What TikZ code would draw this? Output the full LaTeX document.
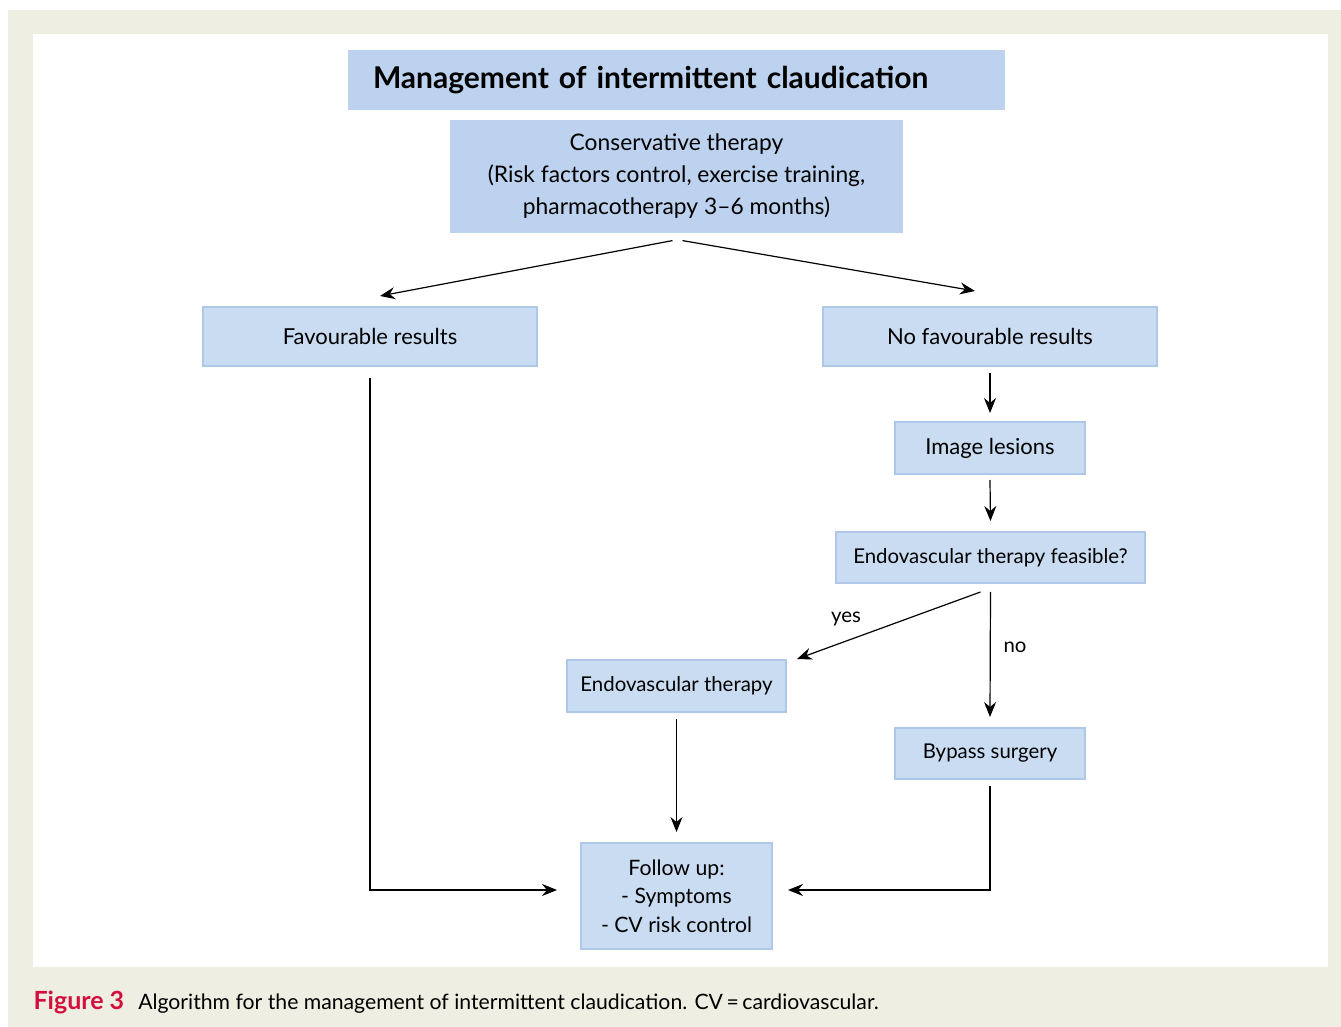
\documentclass[tikz,border=0pt]{standalone}
\usepackage{fontspec}
\setmainfont{Lato}
\usetikzlibrary{arrows.meta}

\definecolor{panel}{HTML}{EFEEE3}
\definecolor{boxfill}{HTML}{C9DCF1}
\definecolor{boxline}{HTML}{AFC8EA}
\definecolor{headfill}{HTML}{BDD2EE}
\definecolor{figred}{HTML}{D3103C}

\begin{document}
\begin{tikzpicture}[->,>={Stealth[length=7.5pt,width=6pt,inset=2.5pt]},x=0.5pt,y=-0.5pt,line width=0.6pt,
        box/.style={draw=boxline,fill=boxfill,line width=1pt,inner sep=0pt,
          align=center,font=\fontsize{11}{14}\selectfont},
        small/.style={font=\fontsize{10.2}{13}\selectfont},
        head/.style={fill=headfill,inner sep=0pt,align=center,
          font=\fontsize{11.4}{16}\selectfont}]

  \useasboundingbox (0,0) rectangle (1341,1027);
  \fill[panel] (8,10) rectangle (1341,1027);
  \fill[white] (33,34) rectangle (1328,967);

  \node[head,minimum width=328.5pt,minimum height=30pt,text width=303.5pt,align=left,
        font=\fontsize{15}{17}\selectfont\bfseries] (title) at (676.5,80)
        {Management of intermittent claudication};
  \node[head,minimum width=226.5pt,minimum height=56.5pt] (cons) at (676.5,176.5)
        {Conservative therapy\\(Risk factors control, exercise training,\\pharmacotherapy 3--6 months)};
  \node[box,minimum width=167pt,minimum height=29.5pt] (fav) at (370,336.5) {Favourable results};
  \node[box,minimum width=167pt,minimum height=29.5pt] (nofav) at (990,336.5) {No favourable results};
  \node[box,minimum width=95pt,minimum height=26pt] (img) at (990,448) {Image lesions};
  \node[box,small,minimum width=154.5pt,minimum height=25.5pt] (feas) at (990.5,557.5) {Endovascular therapy feasible?};
  \node[box,small,minimum width=109.5pt,minimum height=26pt] (endo) at (676.5,686) {Endovascular therapy};
  \node[box,small,minimum width=95pt,minimum height=25.5pt] (bypass) at (990,753.5) {Bypass surgery};
  \node[box,minimum width=95.5pt,minimum height=53pt,font=\fontsize{10.6}{14.3}\selectfont]
        (follow) at (676.5,896) {Follow up:\\- Symptoms\\- CV risk control};

  \draw ([xshift=-2pt,yshift=-3.5pt]cons.south) -- ([xshift=5pt,yshift=5pt]fav.north);
  \draw ([xshift=3pt,yshift=-3.5pt]cons.south) -- ([xshift=-7.5pt,yshift=7.5pt]nofav.north);
  \draw ([yshift=-5.5pt]fav.south) |- ([xshift=-11.5pt,yshift=3pt]follow.west);
  \draw ([yshift=-3pt]nofav.south) -- ([yshift=4pt]img.north);
  \draw ([yshift=-2.5pt]img.south) -- ([yshift=5pt]feas.north);
  \draw ([xshift=-5pt,yshift=-4pt]feas.south) -- ([xshift=5pt]endo.north east)
        node[pos=0.7,xshift=-3pt,yshift=10pt,small] {yes};
  \draw ([yshift=-4pt]feas.south) -- ([yshift=5pt]bypass.north)
        node[pos=0.44,right=3pt,small] {no};
  \draw ([yshift=-3pt]endo.south) -- ([yshift=5pt]follow.north);
  \draw ([yshift=-3pt]bypass.south) |- ([xshift=7.5pt,yshift=3pt]follow.east);

  \node[anchor=west,inner sep=0pt,font=\fontsize{10.6}{12}\selectfont] (caption) at (33,1002)
        {{\color{figred}\fontsize{12.5}{12}\selectfont\bfseries Figure 3}\hspace{7pt}Algorithm for the management of intermittent claudication. CV\,=\,cardiovascular.};

\end{tikzpicture}
\end{document}
